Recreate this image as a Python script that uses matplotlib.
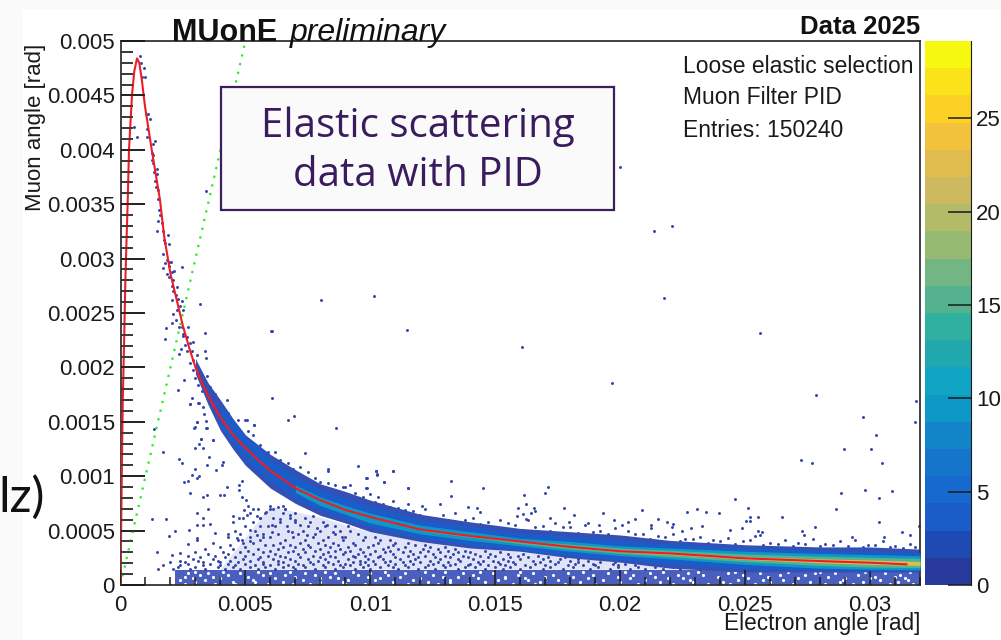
import numpy as np
import matplotlib
matplotlib.use('Agg')
import matplotlib.pyplot as plt
from matplotlib.colors import ListedColormap, BoundaryNorm
from matplotlib.patches import Rectangle

plt.rcParams['font.family'] = ['Liberation Sans', 'DejaVu Sans']

# all angles below are in units of 1e-3 rad
curve_x = [0, .02, .05, .09, .15, .2, .29, .34, .46, .55, .66, .75, .85, .98, 1.25, 1.58, 1.75, 2, 2.25, 2.5, 2.75, 3, 3.25, 3.5, 4, 4.5,
           5, 5.5, 6, 7, 8, 9, 10, 12, 14, 16, 18, 20, 22, 25, 28, 30, 31.46]
curve_y = [0, .4, 1.0, 1.68, 2.3, 2.85, 3.54, 4.0, 4.5, 4.72, 4.84, 4.8, 4.65, 4.4, 4.0, 3.54, 3.2, 2.86, 2.62, 2.38, 2.18, 2.0, 1.86, 1.74, 1.54, 1.38,
           1.26, 1.15, 1.05, .89, .78, .69, .625, .51, .45, .40, .35, .31, .29, .245, .22, .205, .19]
green_x = [0, 5]
green_y = [0, 5]

# bin contents of the palette, bottom to top
palette = ['#283a9c', '#1e4ab4', '#1a5cc8', '#1569cf', '#1475cb', '#1285c8', '#0e98c6', '#10a5c5', '#20a8ae', '#2fb0a0',
           '#55b28e', '#74b683', '#97ba73', '#b3bb68', '#cdb95f', '#e0bc4f', '#f3c23c', '#fdd025', '#fbe31a', '#f7f80f']
z_max = 29.14

# envelope of the dense band, one pair of edges per occupancy level
band_x = [3, 3.5, 4, 4.5, 5, 6, 7, 8, 9, 10, 12, 14, 16, 18, 20, 22, 25, 28, 30, 32]
outer_top = [2.08, 1.86, 1.70, 1.53, 1.38, 1.20, 1.06, .93, .86, .78, .65, .58, .52, .49, .46, .41, .37, .35, .35, .33]
outer_bot = [1.94, 1.66, 1.42, 1.25, 1.10, .89, .75, .64, .57, .49, .40, .34, .31, .25, .21, .155, .12, .12, .12, .12]
mid_x = [4, 5, 6, 7, 8, 9, 10, 12, 14, 16, 18, 20, 22, 25, 28, 30, 32]
mid_top = [1.66, 1.37, 1.16, 1.0, .88, .80, .73, .60, .54, .48, .45, .41, .38, .34, .32, .31, .30]
mid_bot = [1.45, 1.15, .95, .79, .69, .61, .53, .43, .37, .32, .27, .23, .19, .15, .14, .13, .13]
teal_x = [7, 8, 9, 10, 12, 14, 16, 18, 20, 22, 25, 28, 30, 32]
teal_top = [.92, .81, .73, .66, .55, .49, .43, .40, .36, .34, .31, .29, .28, .27]
teal_bot = [.85, .73, .65, .57, .47, .41, .36, .31, .27, .24, .19, .155, .145, .14]
green_band_x = [12, 14, 16, 18, 20, 22, 25, 28, 30, 32]
green_top = [.52, .46, .41, .375, .34, .32, .285, .265, .255, .245]
green_bot = [.50, .44, .38, .33, .29, .26, .215, .18, .165, .16]
yellow_x = [18, 20, 22, 25, 28, 30, 32]
yellow_top = [.355, .32, .295, .26, .24, .23, .215]
yellow_bot = [.345, .305, .28, .235, .205, .19, .18]

# isolated entries read one by one
far_x = [29.71, 31.78, 30.22, 28.94, 30.03, 27.22, 27.67, 30.49, 28.82, 29.78, 30.87, 30.35, 24.61, 28.63, 25.11, 23.45, 23.97,
         25.18, 25.5, 26.46, 25.05, 25.18, 30.35, 23.26, 27.81, 24.86, 24.38, 27.29, 31.26, 31.95, 31.58, 27.35, 25.53, 25.66,
         25.58, 30.55, 29.27, 31.83, 10.21, 10.91, 10.27, 9.82, 10.53, 13.21, 11.49, 9.82, 14.5, 17.11, 16.99, 16.15, 13.21,
         10.91, 16.22, 11.49, 12.06, 12.77, 13.91, 14.25, 15.89, 16.54, 17.75, 16.59, 14.37, 16.1, 16.42, 19.3, 20.89, 18.14,
         15.85, 17.19, 16.22, 19.74, 20.58, 17.95, 18.73, 20.31, 20.06, 21.22, 21.22, 19.15, 21.5, 22.69, 23.07, 21.86, 22.11,
         22.06, 22.82, 22.49, 19.98, 21.34, 22.06, 8.02, 10.14, 11.46, 6.02, 21.74, 25.58, 16.06, 19.66, 27.82, 3.43]
far_y = [1.54, 1.50, 1.38, 1.25, 1.25, 1.15, 1.12, 1.12, .85, .87, .86, .80, .79, .70, .71, .67, .66,
         .625, .625, .625, .59, .59, .58, .54, .53, .52, .505, .50, .49, .54, .46, .46, .495, .487,
         .46, .44, .44, 1.69, 1.05, 1.05, 1.02, .98, .95, .96, .89, .89, .89, .90, .85, .83, .82,
         .77, .74, .74, .73, .74, .72, .71, .71, .71, .71, .68, .67, .655, .66, .66, .69, .64,
         .63, .62, .61, .60, .61, .58, .57, .58, .55, .55, .52, .55, .61, .67, .70, .58, .56,
         .53, .52, .50, 3.84, 3.25, 3.30, 2.62, 2.66, 2.34, 2.33, 2.64, 2.32, 2.19, 1.86, 1.75, 3.62]

# entries hugging the fit above the dense band, and the ones scattered under it
hug_x = [.79, .81, .93, .99, .87, 1.02, 1.11, 1.18, 1.05, .55, .67, 1.06, 1.38, 1.29, 1.25, 1.31, 1.25, 1.29, 1.45, 1.35, 1.45,
         1.37, 1.41, 1.49, 1.51, 1.55, 1.6, 1.5, 1.65, 1.45, 1.69, 1.90, 1.75, 1.79, 1.95, 1.71, 1.85, 1.95, 2.01, 1.78, 1.71, 1.95,
         2.06, 1.85, 2.14, 1.93, 2.09, 2.05, 2.27, 2.11, 2.22, 2.06, 2.31, 2.45, 2.38, 2.27, 2.11, 2.51, 2.22, 2.05, 2.35, 2.45,
         2.71, 2.51, 2.65, 2.49, 2.78, 2.58, 2.91, 2.41, 2.65, 2.35, 2.85, 3.05, 2.91, 2.78, 3.05, 2.91, 3.18, 3.45, 2.98, 3.31,
         3.11, 3.58, 3.25, 3.78, 2.47, 3.18, 3.37, 6.05, 1.77, 1.82, 2.53, 2.29, 6.05, 6.69, 6.94, 3.05, 3.43, 5.34, 5.05, 2.98,
         3.43, 1.33, 3.23, 3.71, 2.85, 2.78, 3.11, 3.31, 4.27, 3.37, 3.42]
hug_y = [4.86, 4.795, 4.755, 4.67, 4.67, 4.33, 4.33, 4.28, 4.19, 4.21, 4.12, 4.12, 4.08, 4.05, 3.97, 3.95, 3.91, 3.88, 3.82, 3.80, 3.78,
         3.71, 3.66, 3.63, 3.55, 3.45, 3.40, 3.35, 3.33, 3.25, 3.25, 3.22, 3.17, 3.14, 3.13, 3.04, 2.99, 2.97, 2.97, 2.96, 2.91, 2.93,
         2.88, 2.86, 2.89, 2.83, 2.80, 2.75, 2.74, 2.70, 2.67, 2.62, 2.63, 2.61, 2.56, 2.53, 2.49, 2.53, 2.44, 2.41, 2.37, 2.37,
         2.37, 2.31, 2.28, 2.29, 2.22, 2.21, 2.23, 2.17, 2.15, 2.12, 2.15, 2.11, 2.07, 2.04, 2.01, 1.98, 1.95, 1.92, 1.90, 1.85,
         1.84, 1.82, 1.78, 1.76, 2.92, 2.58, 2.32, 2.33, 2.26, 2.36, 1.88, 1.79, 1.72, 1.52, 1.55, 1.50, 1.51, 1.47, 1.52, 1.45,
         1.44, 1.43, 1.34, 1.33, 1.72, 1.66, 1.67, 1.64, 1.70, 2.15, 2.09]
under_x = [2.78, 3.15, 3.35, 3.05, 2.95, 3.45, 8.61, 7.39, 5.35, 5.0, 3.71, 3.22, 3.15, 2.98, 3.31, 3.55, 1.69, 2.35, 2.47, 2.98, 4.09,
           4.05, 3.82, 3.45, 2.85, 3.15, 3.05, 2.54, 2.69, 2.78, 3.45, 3.29, 3.98, 4.14, 4.27, 3.49, 3.05, 3.31, 1.25, 1.82, 3.05, 3.31,
           3.58, 2.75, 2.18, 1.95, 3.78, 4.31, 3.05, 3.07, 2.71, 1.45, 2.38, 2.05, 4.49, 4.75, 4.75, 4.85, 4.75, 4.85, 5.02, 5.11, 5.31,
           4.94, 5.05, 5.45, 5.58, 5.98, 6.11, 5.82, 6.31, 6.51, 6.58, 6.78, 6.98, 6.38, 6.05, 5.58, 5.18, 4.65, 4.85, 5.18, 5.45, 5.71,
           6.05, 6.65, 6.85, 7.18, 7.45, 7.85, 8.25, 8.51, 8.85, 9.11, 7.71, 8.25, 9.51, 8.31, 8.31, 10.21, 10.25, 10.91, 10.54, 9.85,
           11.49, 8.98, 9.18, 9.85, 10.31]
under_y = [1.66, 1.67, 1.57, 1.50, 1.44, 1.44, 1.44, 1.21, 1.47, 1.52, 1.33, 1.34, 1.30, 1.26, 1.26, 1.18, 1.22, 1.16, 1.12, 1.07, 1.13,
           1.10, 1.06, 1.10, 1.01, 1.0, .98, .95, .96, .85, .83, .81, .83, .83, .90, .70, .66, .62, .61, .61, .55, .55,
           .56, .51, .50, .45, .48, .47, .43, .41, .38, .30, .29, .28, .63, .62, .92, .96, .87, .81, .78, .73, .70,
           .69, .64, .63, .62, .73, .70, .67, .72, .73, .70, .64, .60, .61, .55, .54, .51, .43, .41, .40, .46, .44,
           .49, .54, .49, .55, .46, .52, .55, .49, .44, .54, .63, .66, 1.09, 1.07, 1.05, 1.05, 1.01, 1.05, .95, .98,
           .89, .90, .92, .89, .81]

# rows of the low-angle population, one x list per y bin
row_y = [.15, .165, .18, .195, .21, .225, .24, .255, .27, .285, .30, .315, .33, .35, .37, .39, .41, .44, .47, .50, .54, .58, .62, .66, .70]
row_x = [
    [1.5, 2.1, 2.8, 3.4, 4.2, 4.8, 5.5, 6.2, 7.0, 7.8, 8.6, 9.4, 10.0, 11.1, 11.9, 12.6, 13.5, 14.6, 15.3, 16.0, 16.9, 17.7, 18.8, 19.6, 20.4, 21.0, 21.7, 22.4, 23.2, 23.8],
    [2.3, 3.0, 3.9, 4.5, 5.2, 5.8, 6.5, 6.9, 7.4, 8.2, 8.9, 9.7, 10.4, 10.9, 11.5, 12.2, 13.0, 13.8, 14.2, 15.0, 15.6, 16.4, 17.2, 18.1, 19.1, 19.9, 20.7, 21.4, 22.1],
    [1.7, 2.4, 3.3, 4.0, 4.6, 5.4, 6.0, 6.7, 7.3, 8.1, 8.8, 9.2, 9.9, 10.7, 11.4, 12.3, 12.9, 13.2, 13.9, 14.7, 15.4, 16.2, 17.0, 17.9, 18.5, 19.0, 19.9, 20.6],
    [2.7, 3.6, 4.3, 5.0, 5.7, 6.3, 7.1, 7.7, 8.5, 9.0, 9.6, 10.2, 11.0, 11.7, 12.5, 13.4, 14.0, 14.4, 15.2, 15.8, 16.6, 17.4, 18.2, 18.9, 19.7, 20.2],
    [2.0, 2.6, 3.3, 4.0, 4.7, 5.7, 6.5, 7.6, 8.3, 9.3, 9.8, 10.6, 11.3, 12.0, 12.7, 13.1, 14.3, 15.1, 15.7, 16.8, 17.5, 18.3, 19.2, 19.8],
    [2.4, 3.1, 3.9, 4.4, 5.2, 6.3, 7.0, 7.9, 8.7, 9.6, 10.1, 10.8, 11.6, 12.4, 13.6, 14.5, 14.9, 15.5, 16.5, 17.2, 18.0, 18.7],
    [2.9, 3.7, 4.9, 5.5, 6.1, 6.8, 7.5, 8.2, 9.1, 9.9, 10.5, 11.2, 11.8, 12.8, 13.5, 14.1, 15.3, 16.0, 16.9, 17.6, 18.3],
    [3.2, 4.2, 4.6, 5.6, 6.6, 7.2, 8.0, 8.6, 9.4, 10.3, 11.0, 11.9, 12.6, 13.2, 13.9, 14.7, 15.6, 16.3, 17.1, 17.8],
    [2.7, 3.8, 5.0, 5.9, 6.4, 7.7, 8.4, 9.3, 9.8, 10.4, 11.5, 12.2, 13.0, 13.7, 14.4, 15.0, 15.9, 16.7],
    [3.5, 4.3, 5.3, 6.2, 7.1, 8.1, 8.9, 9.5, 10.0, 10.9, 11.7, 12.5, 13.3, 14.2, 14.8, 15.5, 16.1],
    [3.0, 4.1, 4.8, 5.7, 6.7, 7.4, 8.3, 9.0, 9.7, 10.6, 11.3, 12.0, 12.8, 13.5, 14.0, 15.2],
    [5.1, 6.0, 6.9, 7.8, 8.6, 9.2, 10.2, 10.8, 11.6, 12.3, 13.1, 13.8, 14.6],
    [3.4, 4.5, 5.5, 6.3, 7.3, 8.0, 8.8, 9.6, 10.5, 11.1, 12.1, 12.7, 13.4],
    [4.0, 5.0, 6.5, 7.0, 7.6, 8.4, 9.1, 9.9, 10.7, 11.4, 12.4, 13.0],
    [4.4, 5.8, 6.1, 6.8, 7.5, 8.2, 8.7, 9.4, 10.1, 10.9, 11.8, 12.2],
    [3.7, 4.9, 5.3, 6.4, 7.2, 7.9, 8.5, 9.3, 10.3, 11.0, 11.5],
    [4.7, 5.6, 6.6, 7.4, 8.1, 8.9, 9.7, 10.4, 10.8],
    [4.3, 5.2, 6.0, 6.9, 7.7, 8.3, 9.0, 9.8, 10.2],
    [4.8, 5.7, 6.3, 7.1, 7.8, 8.6, 9.5],
    [4.6, 5.4, 6.7, 7.3, 8.0, 8.8, 9.2],
    [5.0, 5.9, 6.2, 7.5, 8.2, 8.6],
    [4.5, 5.3, 6.4, 7.0, 7.6, 8.1],
    [4.9, 5.6, 6.1, 6.8, 7.4],
    [5.2, 5.8, 6.5, 7.0],
    [5.5, 6.0, 6.6],
]

# gaps left white inside the low-angle strip
gap_y = [.012, .028, .044, .06, .076, .092, .108, .124]
gap_x = [
    [2.6, 3.8, 4.6, 5.9, 6.9, 7.6, 9.0, 9.8, 11.5, 12.7, 13.9, 15.7, 16.6, 17.8, 19.0, 20.7, 22.1, 23.5, 24.4, 25.4, 26.9, 28.2, 29.3, 30.8, 31.7],
    [3.0, 4.5, 5.4, 6.5, 8.0, 8.9, 10.9, 12.3, 13.2, 14.6, 16.8, 18.4, 20.0, 21.6, 22.9, 24.1, 26.0, 27.6, 28.8, 29.7, 31.1],
    [2.4, 3.4, 5.3, 7.3, 9.1, 10.2, 11.7, 13.2, 15.1, 16.3, 17.5, 19.3, 21.0, 22.8, 24.7, 25.7, 26.5, 28.9, 30.4, 31.5],
    [2.9, 4.0, 6.2, 8.0, 8.7, 10.4, 12.0, 14.3, 15.4, 16.2, 18.7, 20.4, 21.9, 22.5, 25.1, 27.1, 29.0, 30.0, 31.4],
    [2.6, 3.7, 5.1, 7.0, 8.4, 9.9, 11.2, 12.9, 13.5, 15.4, 17.0, 18.1, 19.9, 21.4, 23.9, 25.9, 28.3, 30.2, 31.0],
    [3.2, 4.3, 5.7, 6.6, 7.8, 9.5, 10.7, 12.5, 14.1, 15.9, 17.3, 18.9, 20.5, 22.3, 23.3, 24.9, 26.4, 27.4, 29.5, 31.2],
    [2.7, 3.5, 4.8, 6.0, 7.4, 8.6, 10.0, 11.4, 13.7, 14.9, 16.5, 17.9, 19.5, 21.2, 22.7, 24.3, 25.6, 27.8, 28.6, 30.6],
    [3.0, 4.1, 5.5, 6.8, 8.2, 9.3, 10.6, 12.2, 13.0, 14.4, 16.0, 18.5, 20.2, 21.7, 23.1, 24.6, 26.7, 28.0, 29.8, 31.6],
]

# fringe above the band edge
fringe_x = [5.1, 5.6, 6.2, 6.7, 7.2, 7.8, 8.3, 8.9, 9.4, 10.0, 10.5, 11.1, 11.7, 12.2, 12.9, 13.4, 14.1, 14.7, 15.2, 15.8, 16.3, 16.9,
            17.4, 18.0, 18.6, 19.2, 19.8, 20.3, 20.9, 21.5, 22.1, 22.6, 23.2, 23.7, 24.3, 24.9, 25.4, 26.0, 26.6, 27.1, 27.7, 28.2,
            28.8, 29.4, 29.9, 30.5, 31.0, 31.6,
            4.3, 4.7, 5.3, 5.9, 6.4, 6.9, 7.5, 8.0, 8.6, 9.1, 9.7, 10.2, 10.8, 11.4, 12.0, 12.6, 13.1, 13.8, 14.4, 15.0, 15.5, 16.1, 16.6,
            17.2, 17.7, 18.3, 18.9, 19.5, 20.1, 20.6, 21.2, 21.8, 22.4, 22.9, 23.5, 24.0, 24.6, 25.2, 25.7, 26.3, 26.9, 27.4, 28.0, 28.5,
            29.1, 29.7, 30.2, 30.8, 31.3, 31.8]
fringe_y = [1.42, 1.29, 1.22, 1.12, 1.08, .98, .94, .90, .85, .84, .74, .71, .68, .70, .64, .66, .62, .58, .60, .55, .60, .54,
            .57, .53, .55, .50, .52, .50, .47, .45, .47, .42, .44, .41, .43, .40, .45, .39, .41, .39, .42, .38,
            .40, .41, .37, .40, .36, .38,
            1.58, 1.52, 1.38, 1.22, 1.15, 1.07, 1.04, .95, .92, .84, .81, .76, .72, .69, .64, .62, .60, .60, .56, .53, .57, .51, .53,
            .50, .53, .48, .49, .47, .44, .47, .42, .44, .40, .42, .39, .40, .38, .41, .37, .38, .36, .38, .36, .37,
            .36, .35, .37, .35, .34, .35]

ytick_vals = [0, .5, 1, 1.5, 2, 2.5, 3, 3.5, 4, 4.5, 5]
ytick_text = ['0', '0.0005', '0.001', '0.0015', '0.002', '0.0025', '0.003', '0.0035', '0.004', '0.0045', '0.005']
xtick_vals = [0, 5, 10, 15, 20, 25, 30]
xtick_text = ['0', '0.005', '0.01', '0.015', '0.02', '0.025', '0.03']
ztick_vals = [0, 5, 10, 15, 20, 25]

W, H = 1001, 640
ink = '#1a1a1a'


def px_box(x0, y0, x1, y1):
    return [x0 / W, 1 - y1 / H, (x1 - x0) / W, (y1 - y0) / H]


fig = plt.figure(figsize=(W / 100, H / 100), dpi=100, facecolor='#fafafa')
fig.add_artist(Rectangle((23 / W, 0), 1 - 23 / W, 1 - 9 / H, transform=fig.transFigure, facecolor='white', edgecolor='none', zorder=-1))

cmap = ListedColormap(palette)
norm = BoundaryNorm(np.linspace(0, z_max, len(palette) + 1), len(palette))

ax = fig.add_axes(px_box(120.5, 41, 920, 585))
ax.set_xlim(0, 32)
ax.set_ylim(0, 5)

# low-angle population: averaged colour under the typed entries
ax.fill_between([2.2, 32], 0, .14, facecolor='#4a5fbe', lw=0, zorder=1)
ax.fill_between([4, 6, 8, 10, 14, 20, 32], [.14] * 7, [.14, .72, .62, .48, .34, .22, .12], facecolor='#e0e4f6', lw=0, zorder=1)

ax.fill_between(band_x, outer_bot, outer_top, color='#3550b5', lw=0, zorder=2)
ax.fill_between(mid_x, mid_bot, mid_top, color=cmap(norm(3.0)), lw=0, zorder=3)
ax.fill_between(teal_x, teal_bot, teal_top, color=cmap(norm(9.0)), lw=0, zorder=4)
ax.fill_between(green_band_x, green_bot, green_top, color=cmap(norm(16.0)), lw=0, zorder=5)
ax.fill_between(yellow_x, yellow_bot, yellow_top, color=cmap(norm(23.0)), lw=0, zorder=6)

for y, xs in zip(gap_y, gap_x):
    ax.scatter(xs, [y] * len(xs), s=5, color='white', linewidths=0, zorder=1.5)

dot = dict(s=4.5, color='#3044aa', linewidths=0, zorder=1.8)
ax.scatter(far_x, far_y, **dot)
ax.scatter(hug_x, hug_y, **dot)
ax.scatter(under_x, under_y, **dot)
ax.scatter(fringe_x, fringe_y, **dot)
for y, xs in zip(row_y, row_x):
    ax.scatter(xs, [y] * len(xs), **dot)

ax.plot(green_x, green_y, color='#22ee22', lw=1.6, ls=(0, (1, 3)), zorder=7)
ax.plot(curve_x, curve_y, color='#ee1c25', lw=1.5, zorder=8)

ax.set_axisbelow(False)
ax.set_xticks(xtick_vals)
ax.set_xticklabels(xtick_text)
ax.set_yticks(ytick_vals)
ax.set_yticklabels(ytick_text)
ax.set_xticks(np.arange(0, 32.5, 1), minor=True)
ax.set_yticks(np.arange(0, 5.05, .1), minor=True)
ax.tick_params(axis='y', which='major', direction='in', length=17, width=1.1, color=ink, labelsize=16, pad=4, labelcolor=ink)
ax.tick_params(axis='y', which='minor', direction='in', length=8.5, width=1.1, color='#333333')
ax.tick_params(axis='x', which='major', direction='in', length=11, width=1.1, color=ink, labelsize=16, pad=7, labelcolor=ink)
ax.tick_params(axis='x', which='minor', direction='in', length=5.5, width=1.1, color=ink)
for side in ax.spines.values():
    side.set_linewidth(1.3)
    side.set_color('#333333')

# y ticks once more on a clear axes on top
tick_ax = fig.add_axes(px_box(120.5, 41, 920, 585), facecolor='none', zorder=5)
tick_ax.set_xlim(0, 32)
tick_ax.set_ylim(0, 5)
tick_ax.set_xticks([])
tick_ax.set_yticks(ytick_vals)
tick_ax.set_yticks(np.arange(0, 5.05, .1), minor=True)
tick_ax.tick_params(axis='y', which='major', direction='in', length=17, width=1.1, color=ink, labelleft=False)
tick_ax.tick_params(axis='y', which='minor', direction='in', length=8.5, width=1.1, color='#333333', labelleft=False)
for side in tick_ax.spines.values():
    side.set_visible(False)

cax = fig.add_axes(px_box(925, 41, 970.5, 585))
cax.pcolormesh([0, 1], np.linspace(0, z_max, len(palette) + 1),
               ((np.arange(len(palette)) + .5) * z_max / len(palette)).reshape(-1, 1), cmap=cmap, norm=norm)
cax.set_xticks([])
cax.yaxis.tick_right()
cax.set_yticks(ztick_vals)
cax.tick_params(axis='y', direction='in', length=16.5, width=1.1, color=ink, labelsize=16, pad=4, labelcolor=ink)
for name in ['left', 'top', 'bottom']:
    cax.spines[name].set_visible(False)
cax.spines['right'].set_color(ink)

fig.text(172 / W, 1 - 41 / H, 'MUonE', fontsize=22, fontweight='bold', color='#111111')
fig.text(290 / W, 1 - 41 / H, 'preliminary', fontsize=23, fontstyle='italic', color='#111111')
fig.text(920 / W, 1 - 34 / H, 'Data 2025', fontsize=18.5, fontweight='bold', ha='right', color='#111111')
for y_px, s in zip([73, 104, 137], ['Loose elastic selection', 'Muon Filter PID', 'Entries: 150240']):
    fig.text(683 / W, 1 - y_px / H, s, fontsize=16.5, color=ink)
fig.text(920 / W, 1 - 630 / H, 'Electron angle [rad]', fontsize=16.3, ha='right', color=ink)
fig.text(35.5 / W, 1 - 44 / H, 'Muon angle [rad]', fontsize=16, rotation=90, ha='center', va='top', color=ink)
fig.text(45 / W, 1 - 497 / H, 'lz)', fontsize=35, family='Lato', ha='right', va='center', color='#111111')

fig.add_artist(Rectangle((220.5 / W, 1 - 210 / H), 393.5 / W, 123 / H, transform=fig.transFigure,
                         facecolor='#fafafa', edgecolor='#3b1f5c', lw=1.6, zorder=10))
fig.text(418 / W, 1 - 127 / H, 'Elastic scattering', fontsize=29, family='Open Sans', color='#3a1c5e', ha='center', va='center', zorder=11)
fig.text(418 / W, 1 - 176 / H, 'data with PID', fontsize=29, family='Open Sans', color='#3a1c5e', ha='center', va='center', zorder=11)

fig.savefig('out.png', dpi=100, facecolor=fig.get_facecolor())
